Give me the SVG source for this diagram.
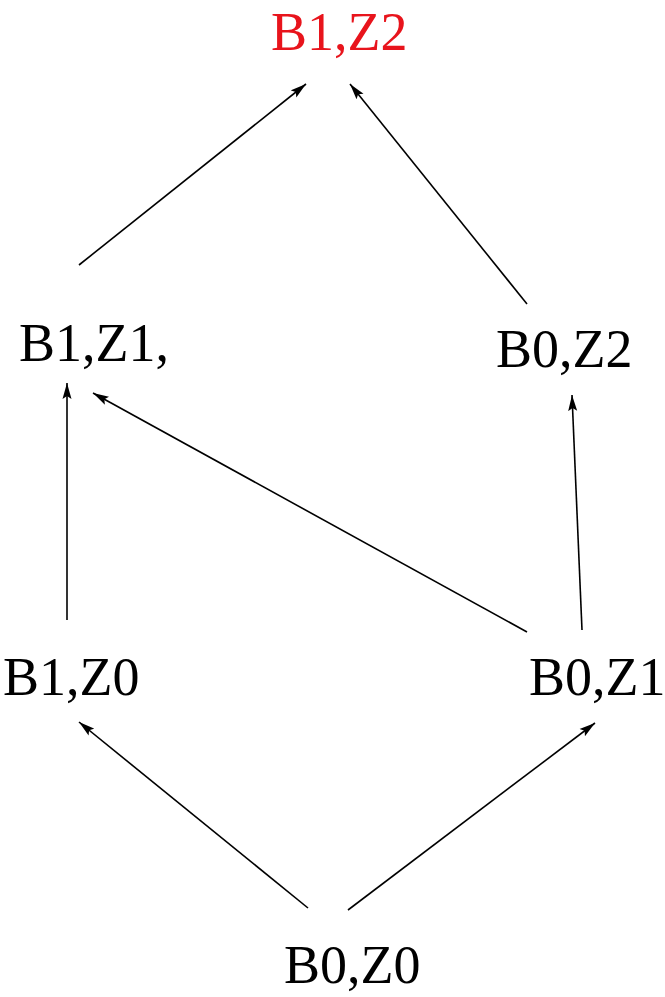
<svg xmlns="http://www.w3.org/2000/svg" width="665" height="997" viewBox="0 0 665 997">
<defs>
<style>
text{font-family:"Liberation Serif","Times New Roman",serif;font-size:54px;fill:#000}
.top{fill:#e8141c}
.edge{stroke:#000;stroke-width:1.6;fill:none;marker-end:url(#ah)}
</style>
<marker id="ah" viewBox="0 0 16 10" refX="16" refY="5" markerWidth="16" markerHeight="10" markerUnits="userSpaceOnUse" orient="auto">
<path d="M0,0.5 L16,5 L0,9.5 L3,5 Z" fill="#000"/>
</marker>
</defs>
<rect width="665" height="997" fill="#fff"/>
<g id="connectors">
<line class="edge" x1="79" y1="265" x2="306" y2="84"/>
<line class="edge" x1="527" y1="304" x2="350" y2="84"/>
<line class="edge" x1="67" y1="620" x2="67" y2="383"/>
<line class="edge" x1="527" y1="632" x2="93" y2="393"/>
<line class="edge" x1="582" y1="630" x2="572" y2="395"/>
<line class="edge" x1="308" y1="908" x2="79" y2="722"/>
<line class="edge" x1="348" y1="910" x2="595" y2="723"/>
</g>
<g id="B1Z2"><text class="top" x="271" y="50">B1,Z2</text></g>
<g id="B1Z1"><text x="19" y="361">B1,Z1,</text></g>
<g id="B0Z2"><text x="496" y="367">B0,Z2</text></g>
<g id="B1Z0"><text x="3" y="695">B1,Z0</text></g>
<g id="B0Z1"><text x="529" y="695">B0,Z1</text></g>
<g id="B0Z0"><text x="284" y="983">B0,Z0</text></g>
</svg>
